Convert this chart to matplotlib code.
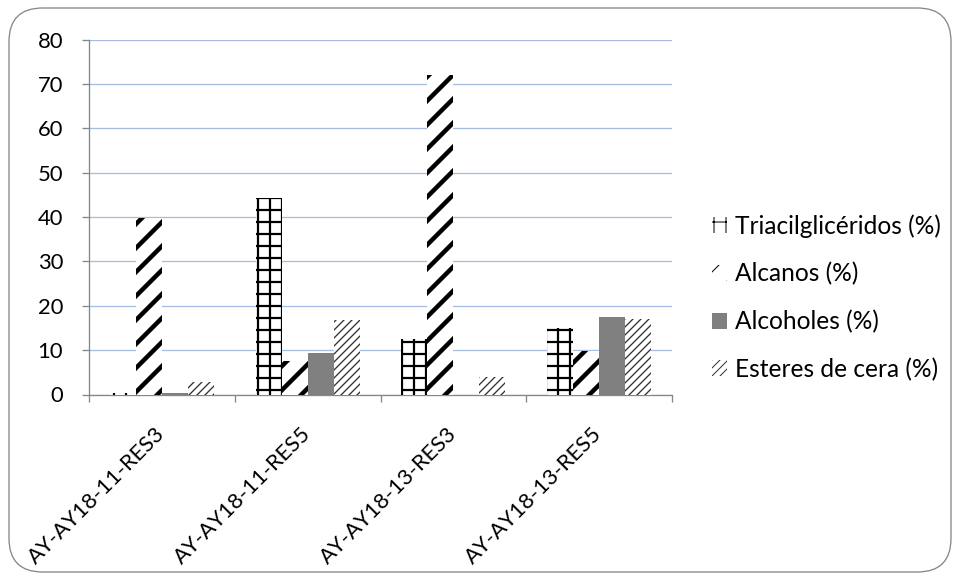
import numpy as np
import matplotlib.pyplot as plt
from matplotlib.patches import FancyBboxPatch, Patch

plt.rcParams['font.family'] = ['Lato', 'DejaVu Sans']

muestras = ['AY-AY18-11-RES3', 'AY-AY18-11-RES5', 'AY-AY18-13-RES3', 'AY-AY18-13-RES5']
series = ['Triacilglicéridos (%)', 'Alcanos (%)', 'Alcoholes (%)', 'Esteres de cera (%)']

triacilgliceridos = [0.3, 44.2, 12.5, 15.0]
alcanos = [39.7, 7.6, 72.0, 9.8]
alcoholes = [0.4, 9.3, 0.0, 17.5]
esteres = [2.9, 16.7, 3.9, 17.1]

valores = [triacilgliceridos, alcanos, alcoholes, esteres]

# look of each series: face, hatch, hatch colour, hatch width
estilos = [('white', '+', 'black', 2.2),
           ('white', '/', 'black', 4.5),
           ('#808080', '', '#808080', 1.0),
           ('white', '///', '#303030', 1.3)]

fs = 22
fs_leg = 24.5

fig = plt.figure(figsize = (960/72, 581/72), dpi = 72)
ax = fig.add_axes([89/960, 1 - 394.5/581, (672 - 89)/960, (394.5 - 39.7)/581])

borde = FancyBboxPatch((9/960, 9/581), 942/960, 564/581, boxstyle = "round,pad=0,rounding_size=0.035",
                       transform = fig.transFigure, facecolor = 'none', edgecolor = '#868686', linewidth = 1.3,
                       mutation_aspect = 960/581)
fig.patches.append(borde)

x = np.arange(len(muestras))
w = 0.178

handles = []
for i in range(len(series)):
    face, hatch, hcolor, hlw = estilos[i]
    with plt.rc_context({'hatch.linewidth': hlw}):
        ax.bar(x + (i - 1.5)*w, valores[i], width = w, color = face, hatch = hatch,
               edgecolor = hcolor, linewidth = 0, zorder = 3)
        handles.append(Patch(facecolor = face, hatch = hatch, edgecolor = hcolor, linewidth = 0))

ax.set_xlim(-0.5, len(muestras) - 0.5)
ax.set_ylim(0, 80)
ax.set_yticks(np.arange(0, 81, 10))
ax.grid(axis = 'y', color = '#a6bce2', linewidth = 1.3, zorder = 0)

ax.set_xticks(x)
ax.set_xticklabels(muestras, rotation = 45, ha = 'right', va = 'center', rotation_mode = 'anchor', fontsize = fs)
ax.set_xticks(np.arange(-0.5, len(muestras) + 0.5, 1), minor = True)
ax.tick_params(axis = 'x', which = 'major', length = 0, pad = 36)
ax.tick_params(axis = 'x', which = 'minor', length = 7, color = '#868686', width = 1.3)
ax.tick_params(axis = 'y', length = 7, color = '#868686', width = 1.3, labelsize = fs, pad = 19)

for s in ['top', 'right']:
    ax.spines[s].set_visible(False)
for s in ['left', 'bottom']:
    ax.spines[s].set_color('#868686')
    ax.spines[s].set_linewidth(1.3)

fig.legend(handles, series, loc = 'center left', bbox_to_anchor = (712/960, 1 - 297.5/581), frameon = False,
           borderpad = 0, borderaxespad = 0, fontsize = fs_leg, handlelength = 0.62, handleheight = 0.62,
           handletextpad = 0.3, labelspacing = 1.0)

fig.savefig('out.png', dpi = 72)
